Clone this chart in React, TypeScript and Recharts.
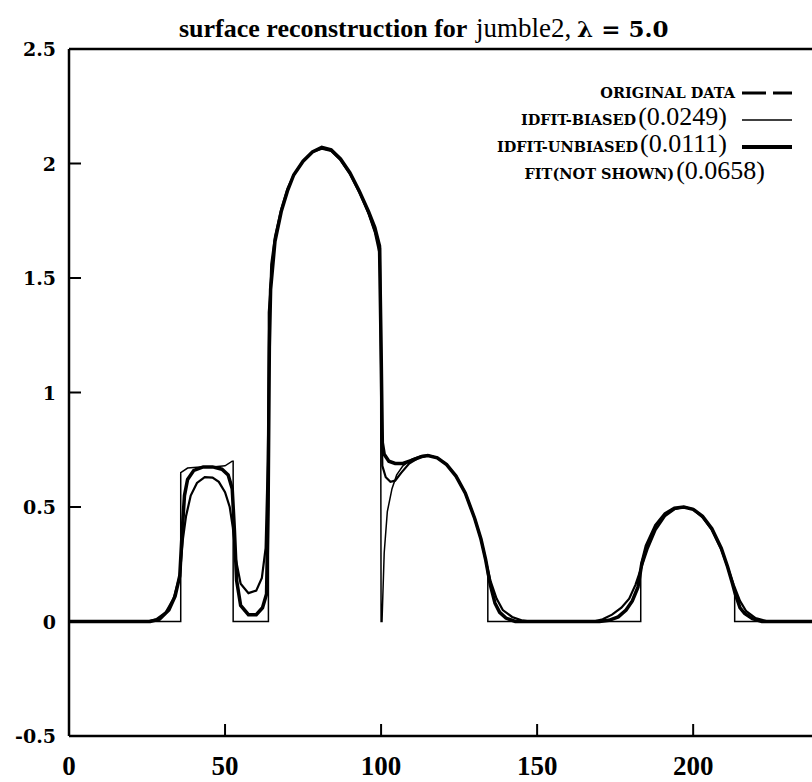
import { LineChart, Line, XAxis, YAxis } from "recharts";

// step-like original signal and the two fits as [x, y]
const originalPts = [
  [0, 0], [35.8, 0], [35.8, 0.65], [38, 0.67], [42, 0.675], [46, 0.675], [50, 0.68], [52.3, 0.7],
  [52.6, 0.7], [52.6, 0], [63.9, 0], [63.9, 1.35], [65, 1.55], [66, 1.66], [68, 1.79], [70, 1.88],
  [72, 1.95], [75, 2.01], [78, 2.05], [81, 2.07], [84, 2.06], [87, 2.02], [90, 1.96], [93, 1.88],
  [96, 1.78], [98, 1.7], [99.8, 1.63], [100, 0], [100.3, 0], [101, 0.3], [102, 0.48], [103.5, 0.58],
  [105, 0.64], [107, 0.68], [110, 0.71], [113, 0.725], [115, 0.727], [118, 0.715], [121, 0.685],
  [124, 0.635], [127, 0.56], [130, 0.45], [132, 0.36], [133.5, 0.27], [134.2, 0.2], [134.2, 0],
  [183.2, 0], [183.2, 0.25], [185, 0.33], [188, 0.42], [191, 0.47], [194, 0.495], [197, 0.5],
  [200, 0.49], [203, 0.46], [206, 0.405], [209, 0.32], [211, 0.24], [213.3, 0.13], [213.3, 0],
  [240, 0],
];

const biasedPts = [
  [0, 0], [25, 0], [28, 0.01], [31, 0.04], [33.5, 0.1], [35.5, 0.2], [36.5, 0.36], [37.5, 0.46],
  [39, 0.55], [41, 0.605], [43.5, 0.63], [46, 0.628], [48, 0.61], [50, 0.565], [51.5, 0.5],
  [52.5, 0.41], [53.5, 0.27], [55, 0.165], [57.5, 0.124], [60, 0.135], [61.8, 0.19], [63, 0.32],
  [63.7, 0.7], [64.2, 1.3], [64.8, 1.56], [66, 1.68], [68, 1.8], [70, 1.89], [72, 1.95], [75, 2.01],
  [78, 2.05], [81, 2.065], [84, 2.055], [87, 2.015], [90, 1.955], [93, 1.875], [96, 1.78], [98, 1.7],
  [99.6, 1.6], [100.1, 1.0], [100.4, 0.68], [101.5, 0.63], [103, 0.61], [104.5, 0.615],
  [106.5, 0.65], [109, 0.69], [112, 0.715], [115, 0.725], [118, 0.715], [121, 0.685], [124, 0.635],
  [127, 0.56], [130, 0.45], [132, 0.36], [133.5, 0.27], [135, 0.18], [137, 0.1], [139, 0.05],
  [142, 0.02], [145, 0.005], [148, 0], [168, 0], [171, 0.01], [174, 0.03], [177, 0.06],
  [179.5, 0.1], [181.5, 0.16], [183.5, 0.24], [185.5, 0.32], [188, 0.4], [191, 0.46], [194, 0.49],
  [197, 0.5], [200, 0.49], [203, 0.455], [206, 0.4], [209, 0.315], [211, 0.24], [213, 0.16],
  [215, 0.09], [217, 0.045], [220, 0.015], [224, 0], [240, 0],
];

const unbiasedPts = [
  [0, 0], [26, 0], [29, 0.01], [32, 0.05], [34, 0.11], [35.5, 0.2], [36.3, 0.4], [37, 0.55],
  [38, 0.62], [40, 0.66], [43, 0.675], [46, 0.675], [49, 0.665], [51, 0.64], [52.3, 0.58],
  [53, 0.4], [53.7, 0.18], [55, 0.07], [57.5, 0.03], [60, 0.03], [62, 0.06], [63.3, 0.12],
  [63.8, 0.5], [64.2, 1.2], [64.6, 1.45], [66, 1.66], [68, 1.79], [70, 1.88], [72, 1.95],
  [75, 2.01], [78, 2.05], [81, 2.07], [84, 2.06], [87, 2.02], [90, 1.96], [93, 1.88], [96, 1.79],
  [98, 1.72], [99.5, 1.64], [100, 1.2], [100.4, 0.78], [101, 0.73], [102.5, 0.7], [104.5, 0.69],
  [107, 0.69], [110, 0.705], [113, 0.72], [115, 0.725], [118, 0.715], [121, 0.685], [124, 0.635],
  [127, 0.56], [130, 0.45], [132, 0.36], [133.5, 0.27], [135, 0.16], [136.5, 0.08], [138, 0.04],
  [140, 0.015], [143, 0], [170, 0], [173, 0.005], [176, 0.02], [178.5, 0.05], [180.5, 0.09],
  [182.3, 0.15], [183.5, 0.25], [185, 0.33], [188, 0.42], [191, 0.47], [194, 0.495], [197, 0.5],
  [200, 0.49], [203, 0.46], [206, 0.405], [209, 0.32], [211, 0.24], [212.5, 0.17], [213.5, 0.12],
  [215, 0.06], [216.5, 0.035], [219, 0.012], [222, 0], [240, 0],
];

const xTicks = [0, 50, 100, 150, 200];
const xTicksTop = [50, 100, 150, 200];
const yTicks = [-0.5, 0, 0.5, 1, 1.5, 2, 2.5];

const legendNames = ["ORIGINAL DATA", "IDFIT-BIASED", "IDFIT-UNBIASED", "FIT(NOT SHOWN)"];
const legendErrors = ["", "(0.0249)", "(0.0111)", "(0.0658)"];

const toXY = (pts: number[][]) => pts.map(([x, y]) => ({ x, y }));

const TICK = 12;
const serifBold = { fontFamily: "'Liberation Serif', serif", fontWeight: "bold" as const };

function LeftTick(props: any) {
  const { x, y, payload } = props;
  return (
    <g>
      <line x1={x} x2={x + TICK} y1={y} y2={y} stroke="#000" strokeWidth={2} />
      <text x={x - 13} y={y + 7} textAnchor="end" fontFamily="'DejaVu Serif', serif" fontWeight="bold" fontSize={19} fill="#000">
        {String(payload.value)}
      </text>
    </g>
  );
}

function BottomTick(props: any) {
  const { x, y, payload } = props;
  return (
    <g>
      <line x1={x} x2={x} y1={y} y2={y - TICK} stroke="#000" strokeWidth={2} />
      <text x={x} y={y + 39} textAnchor="middle" {...serifBold} fontSize={27} fill="#000">
        {String(payload.value)}
      </text>
    </g>
  );
}

function TopTick(props: any) {
  const { x, y } = props;
  return <line x1={x} x2={x} y1={y} y2={y + TICK} stroke="#000" strokeWidth={2} />;
}

function RightTick(props: any) {
  const { x, y } = props;
  return <line x1={x - TICK} x2={x} y1={y} y2={y} stroke="#000" strokeWidth={2} />;
}

const legendRows = [
  { base: 98, end: 735, lineY: 93, width: 3, dash: "24 7" },
  { base: 125, end: 727, lineY: 120, width: 1.6, dash: undefined },
  { base: 152, end: 727, lineY: 147, width: 3.8, dash: undefined },
  { base: 179, end: 765, lineY: 0, width: 0, dash: undefined },
];

export default function App() {
  const frame = { stroke: "#000", strokeWidth: 2.5 };
  return (
    <div style={{ position: "absolute", left: 0, top: 0, width: 812, height: 782, overflow: "hidden", background: "#fff" }}>
      <LineChart width={830} height={782} margin={{ top: 48, right: 11, bottom: 45, left: 0 }}>
        <XAxis xAxisId="b" type="number" dataKey="x" domain={[0, 240]} ticks={xTicks} interval={0}
          tickSize={0} tickMargin={0} tickLine={false} axisLine={frame} tick={<BottomTick />} height={1} />
        <XAxis xAxisId="t" orientation="top" type="number" dataKey="x" domain={[0, 240]} ticks={xTicksTop} interval={0}
          tickSize={0} tickMargin={0} tickLine={false} axisLine={frame} tick={<TopTick />} height={1} />
        <YAxis yAxisId="l" type="number" domain={[-0.5, 2.5]} ticks={yTicks} interval={0}
          tickSize={0} tickMargin={0} tickLine={false} axisLine={frame} tick={<LeftTick />} width={69} />
        <YAxis yAxisId="r" orientation="right" type="number" domain={[-0.5, 2.5]} ticks={yTicks} interval={0}
          tickSize={0} tickMargin={0} tickLine={false} axisLine={frame} tick={<RightTick />} width={1} />
        <Line data={toXY(originalPts)} dataKey="y" xAxisId="b" yAxisId="l" type="linear" dot={false}
          stroke="#000" strokeWidth={1.5} isAnimationActive={false} />
        <Line data={toXY(biasedPts)} dataKey="y" xAxisId="b" yAxisId="l" type="linear" dot={false}
          stroke="#000" strokeWidth={2.2} isAnimationActive={false} />
        <Line data={toXY(unbiasedPts)} dataKey="y" xAxisId="b" yAxisId="l" type="linear" dot={false}
          stroke="#000" strokeWidth={3.5} isAnimationActive={false} />
      </LineChart>
      <svg width={812} height={782} style={{ position: "absolute", left: 0, top: 0, pointerEvents: "none" }}>
        <text x={179} y={37} {...serifBold} fontSize={26} fill="#000">
          surface reconstruction for
        </text>
        <text x={476} y={37} fontFamily="'Liberation Serif', serif" fontSize={27} fill="#000">
          jumble2,
        </text>
        <text x={577} y={37} fontFamily="'DejaVu Serif', serif" fontWeight="bold" fontSize={23} fill="#000">
          λ = 5.0
        </text>
        {legendRows.map((r, i) => (
          <g key={i}>
            <text x={r.end} y={r.base} textAnchor="end" fill="#000">
              <tspan fontFamily="'DejaVu Serif', serif" fontWeight="bold" fontSize={14.5}>{legendNames[i]}</tspan>
              {legendErrors[i] && (
                <tspan fontFamily="'Liberation Serif', serif" fontSize={26} dx={2}>{legendErrors[i]}</tspan>
              )}
            </text>
            {r.width > 0 && (
              <line x1={742} x2={792} y1={r.lineY} y2={r.lineY} stroke="#000" strokeWidth={r.width} strokeDasharray={r.dash} />
            )}
          </g>
        ))}
      </svg>
    </div>
  );
}
